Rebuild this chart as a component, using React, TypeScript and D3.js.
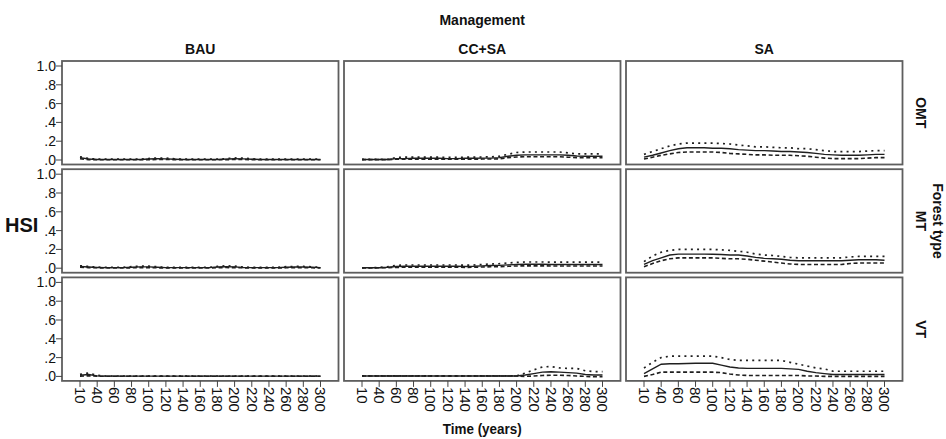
import React from "react";
import * as d3 from "d3";

// ---------- data ----------
const timeCategories = [10, 30, 40, 50, 60, 70, 80, 90, 100, 110, 120, 130, 140, 150, 160, 170, 180, 190, 200, 210, 220, 230, 240, 250, 260, 270, 280, 290, 300];
const timeTickLabels = [10, 40, 60, 80, 100, 120, 140, 160, 180, 200, 220, 240, 260, 280, 300];
const managementLevels = ["BAU", "CC+SA", "SA"];
const forestTypes = ["OMT", "MT", "VT"];
const hsiTicks = [0, 0.2, 0.4, 0.6, 0.8, 1.0];

// BAU
const bauOmtMean = [0.025, 0.01, 0.006, 0.006, 0.006, 0.006, 0.006, 0.006, 0.01, 0.013, 0.012, 0.008, 0.006, 0.006, 0.006, 0.006, 0.006, 0.009, 0.013, 0.012, 0.008, 0.006, 0.006, 0.006, 0.006, 0.006, 0.006, 0.006, 0.006];
const bauOmtUpper = [0.035, 0.016, 0.009, 0.009, 0.009, 0.009, 0.009, 0.009, 0.016, 0.021, 0.02, 0.012, 0.009, 0.009, 0.009, 0.009, 0.009, 0.014, 0.022, 0.02, 0.012, 0.009, 0.009, 0.009, 0.009, 0.009, 0.009, 0.009, 0.009];
const bauOmtLower = [0.014, 0.004, 0.003, 0.003, 0.003, 0.003, 0.003, 0.003, 0.004, 0.005, 0.005, 0.004, 0.003, 0.003, 0.003, 0.003, 0.003, 0.004, 0.005, 0.005, 0.004, 0.003, 0.003, 0.003, 0.003, 0.003, 0.003, 0.003, 0.003];

const bauMtMean = [0.018, 0.012, 0.008, 0.006, 0.006, 0.006, 0.01, 0.014, 0.014, 0.01, 0.006, 0.006, 0.006, 0.006, 0.006, 0.006, 0.012, 0.016, 0.014, 0.008, 0.006, 0.006, 0.006, 0.006, 0.01, 0.012, 0.012, 0.01, 0.006];
const bauMtUpper = [0.026, 0.018, 0.011, 0.009, 0.009, 0.009, 0.016, 0.022, 0.022, 0.015, 0.009, 0.009, 0.009, 0.009, 0.009, 0.009, 0.019, 0.025, 0.022, 0.012, 0.009, 0.009, 0.009, 0.009, 0.016, 0.019, 0.019, 0.015, 0.009];
const bauMtLower = [0.01, 0.006, 0.004, 0.003, 0.003, 0.003, 0.004, 0.006, 0.006, 0.004, 0.003, 0.003, 0.003, 0.003, 0.003, 0.003, 0.005, 0.007, 0.006, 0.004, 0.003, 0.003, 0.003, 0.003, 0.004, 0.005, 0.005, 0.004, 0.003];

const bauVtMean = [0.012, 0.02, 0.006, 0.003, 0.003, 0.003, 0.003, 0.003, 0.003, 0.003, 0.003, 0.003, 0.003, 0.003, 0.003, 0.003, 0.003, 0.003, 0.003, 0.003, 0.003, 0.003, 0.003, 0.003, 0.003, 0.003, 0.003, 0.003, 0.003];
const bauVtUpper = [0.022, 0.035, 0.012, 0.004, 0.004, 0.004, 0.004, 0.004, 0.004, 0.004, 0.004, 0.004, 0.004, 0.004, 0.004, 0.004, 0.004, 0.004, 0.004, 0.004, 0.004, 0.004, 0.004, 0.004, 0.004, 0.004, 0.004, 0.004, 0.004];
const bauVtLower = [0.002, 0.006, 0.002, 0.002, 0.002, 0.002, 0.002, 0.002, 0.002, 0.002, 0.002, 0.002, 0.002, 0.002, 0.002, 0.002, 0.002, 0.002, 0.002, 0.002, 0.002, 0.002, 0.002, 0.002, 0.002, 0.002, 0.002, 0.002, 0.002];

// CC+SA
const ccOmtMean = [0.005, 0.005, 0.005, 0.005, 0.015, 0.015, 0.018, 0.018, 0.018, 0.018, 0.015, 0.015, 0.018, 0.018, 0.02, 0.02, 0.025, 0.04, 0.05, 0.055, 0.055, 0.055, 0.055, 0.055, 0.05, 0.042, 0.04, 0.04, 0.04];
const ccOmtUpper = [0.006, 0.006, 0.006, 0.006, 0.028, 0.03, 0.03, 0.03, 0.03, 0.03, 0.028, 0.028, 0.03, 0.03, 0.032, 0.033, 0.04, 0.06, 0.08, 0.085, 0.085, 0.085, 0.085, 0.085, 0.075, 0.065, 0.065, 0.065, 0.065];
const ccOmtLower = [0.004, 0.004, 0.004, 0.004, 0.008, 0.008, 0.009, 0.009, 0.009, 0.009, 0.008, 0.008, 0.009, 0.009, 0.01, 0.01, 0.012, 0.025, 0.032, 0.034, 0.034, 0.034, 0.034, 0.034, 0.03, 0.025, 0.024, 0.024, 0.024];

const ccMtMean = [0.004, 0.004, 0.005, 0.01, 0.018, 0.02, 0.02, 0.02, 0.02, 0.02, 0.02, 0.02, 0.018, 0.02, 0.025, 0.028, 0.03, 0.035, 0.04, 0.042, 0.042, 0.042, 0.04, 0.04, 0.04, 0.04, 0.04, 0.04, 0.04];
const ccMtUpper = [0.005, 0.005, 0.007, 0.016, 0.03, 0.034, 0.034, 0.034, 0.034, 0.034, 0.034, 0.034, 0.032, 0.034, 0.04, 0.044, 0.048, 0.055, 0.062, 0.066, 0.066, 0.066, 0.064, 0.064, 0.064, 0.064, 0.064, 0.064, 0.064];
const ccMtLower = [0.003, 0.003, 0.004, 0.005, 0.009, 0.01, 0.01, 0.01, 0.01, 0.01, 0.01, 0.01, 0.009, 0.01, 0.013, 0.015, 0.016, 0.02, 0.024, 0.025, 0.025, 0.025, 0.024, 0.024, 0.024, 0.024, 0.024, 0.024, 0.024];

const ccVtMean = [0.005, 0.005, 0.005, 0.005, 0.005, 0.005, 0.005, 0.005, 0.005, 0.005, 0.005, 0.005, 0.005, 0.005, 0.005, 0.005, 0.005, 0.005, 0.005, 0.015, 0.03, 0.045, 0.05, 0.045, 0.04, 0.035, 0.02, 0.015, 0.015];
const ccVtUpper = [0.006, 0.006, 0.006, 0.006, 0.006, 0.006, 0.006, 0.006, 0.006, 0.006, 0.006, 0.006, 0.006, 0.006, 0.006, 0.006, 0.006, 0.006, 0.006, 0.035, 0.07, 0.1, 0.105, 0.09, 0.085, 0.085, 0.06, 0.05, 0.05];
const ccVtLower = [0.004, 0.004, 0.004, 0.004, 0.004, 0.004, 0.004, 0.004, 0.004, 0.004, 0.004, 0.004, 0.004, 0.004, 0.004, 0.004, 0.004, 0.004, 0.004, 0.0, 0.005, 0.01, 0.012, 0.012, 0.01, 0.005, 0.0, -0.004, -0.004];

// SA
const saOmtMean = [0.03, 0.05, 0.075, 0.1, 0.12, 0.13, 0.13, 0.13, 0.125, 0.125, 0.12, 0.11, 0.105, 0.1, 0.1, 0.095, 0.09, 0.09, 0.085, 0.08, 0.07, 0.06, 0.055, 0.05, 0.05, 0.05, 0.055, 0.06, 0.06];
const saOmtUpper = [0.06, 0.09, 0.12, 0.15, 0.17, 0.18, 0.18, 0.18, 0.18, 0.175, 0.17, 0.16, 0.15, 0.14, 0.14, 0.135, 0.13, 0.13, 0.12, 0.12, 0.11, 0.1, 0.09, 0.09, 0.09, 0.09, 0.095, 0.1, 0.1];
const saOmtLower = [0.01, 0.03, 0.05, 0.065, 0.08, 0.085, 0.085, 0.085, 0.085, 0.08, 0.07, 0.065, 0.06, 0.055, 0.055, 0.05, 0.05, 0.05, 0.045, 0.04, 0.03, 0.02, 0.015, 0.015, 0.015, 0.015, 0.02, 0.025, 0.025];

const saMtMean = [0.04, 0.08, 0.11, 0.14, 0.15, 0.15, 0.15, 0.15, 0.148, 0.145, 0.14, 0.14, 0.13, 0.115, 0.105, 0.1, 0.095, 0.085, 0.08, 0.08, 0.08, 0.08, 0.08, 0.08, 0.085, 0.09, 0.09, 0.09, 0.085];
const saMtUpper = [0.07, 0.13, 0.17, 0.19, 0.2, 0.2, 0.2, 0.2, 0.2, 0.195, 0.19, 0.18, 0.17, 0.15, 0.14, 0.135, 0.125, 0.115, 0.11, 0.11, 0.11, 0.11, 0.11, 0.11, 0.12, 0.125, 0.125, 0.125, 0.125];
const saMtLower = [0.015, 0.05, 0.08, 0.1, 0.11, 0.11, 0.11, 0.11, 0.11, 0.105, 0.1, 0.1, 0.095, 0.085, 0.075, 0.065, 0.055, 0.045, 0.04, 0.04, 0.04, 0.04, 0.04, 0.04, 0.05, 0.055, 0.055, 0.055, 0.055];

const saVtMean = [0.03, 0.08, 0.13, 0.135, 0.135, 0.138, 0.14, 0.14, 0.14, 0.12, 0.1, 0.09, 0.085, 0.085, 0.085, 0.085, 0.085, 0.08, 0.075, 0.055, 0.04, 0.03, 0.02, 0.02, 0.02, 0.02, 0.02, 0.02, 0.02];
const saVtUpper = [0.09, 0.15, 0.2, 0.215, 0.215, 0.215, 0.215, 0.215, 0.215, 0.2, 0.18, 0.17, 0.17, 0.17, 0.17, 0.17, 0.17, 0.15, 0.13, 0.11, 0.09, 0.08, 0.055, 0.055, 0.055, 0.055, 0.055, 0.055, 0.055];
const saVtLower = [0.0, 0.02, 0.045, 0.045, 0.045, 0.045, 0.045, 0.045, 0.045, 0.04, 0.025, 0.015, 0.01, 0.01, 0.01, 0.01, 0.01, 0.01, 0.01, 0.005, 0.005, 0.0, 0.0, 0.0, 0.0, 0.0, 0.0, 0.0, 0.0];

// [row = forest type][col = management] -> [mean, upper, lower]
const panelSeries = [
  [[bauOmtMean, bauOmtUpper, bauOmtLower], [ccOmtMean, ccOmtUpper, ccOmtLower], [saOmtMean, saOmtUpper, saOmtLower]],
  [[bauMtMean, bauMtUpper, bauMtLower], [ccMtMean, ccMtUpper, ccMtLower], [saMtMean, saMtUpper, saMtLower]],
  [[bauVtMean, bauVtUpper, bauVtLower], [ccVtMean, ccVtUpper, ccVtLower], [saVtMean, saVtUpper, saVtLower]],
];

// ---------- layout ----------
const W = 946;
const H = 439;
const panelLeft0 = 62;
const panelW = 276.5;
const colStep = 282;
const panelTop0 = 61;
const panelH = 103.5;
const rowStep = 108.2;
const xPad = 18;
const font = "'Liberation Sans', Arial, sans-serif";
const borderColor = "#5e5e5e";
const lineColor = "#1f1f1f";

const fmtY = (d: number) => (d >= 1 ? "1.0" : "." + Math.round(d * 10));

export default function App() {
  const lineStyles = [
    { dash: undefined, width: 1.4 },
    { dash: "2,4.2", width: 1.7 },
    { dash: "4,2.6", width: 1.6 },
  ];

  const panels: React.ReactNode[] = [];
  forestTypes.forEach((ft, r) => {
    managementLevels.forEach((mg, c) => {
      const left = panelLeft0 + c * colStep;
      const top = panelTop0 + r * rowStep;
      const bottom = top + panelH;
      const x = d3
        .scalePoint<number>()
        .domain(timeCategories)
        .range([left + xPad, left + panelW - xPad]);
      const y = d3.scaleLinear().domain([0, 1]).range([bottom - 4.5, top + 5]);
      const line = d3
        .line<number>()
        .x((_, i) => x(timeCategories[i]) as number)
        .y((d) => y(d));
      const series = panelSeries[r][c];
      panels.push(
        <g key={`${r}-${c}`}>
          {series.map((vals, k) => (
            <path
              key={k}
              d={line(vals) || ""}
              fill="none"
              stroke={lineColor}
              strokeWidth={lineStyles[k].width}
              strokeDasharray={lineStyles[k].dash}
            />
          ))}
          <rect x={left} y={top} width={panelW} height={panelH} fill="none" stroke={borderColor} strokeWidth={1.8} />
          {c === 0 &&
            hsiTicks.map((t) => (
              <g key={t}>
                <line x1={left - 6} x2={left} y1={y(t)} y2={y(t)} stroke="#444" strokeWidth={1} />
                <text
                  x={left - 6}
                  y={y(t)}
                  dy="0.36em"
                  textAnchor="end"
                  fontFamily={font}
                  fontSize={14}
                  fill="#111"
                >
                  {fmtY(t)}
                </text>
              </g>
            ))}
          {r === forestTypes.length - 1 &&
            timeTickLabels.map((t) => {
              const tx = x(t) as number;
              return (
                <g key={t}>
                  <line x1={tx} x2={tx} y1={bottom} y2={bottom + 6} stroke="#444" strokeWidth={1} />
                  <text
                    transform={`translate(${tx},${bottom + 6}) rotate(90)`}
                    dy="0.35em"
                    textAnchor="start"
                    fontFamily={font}
                    fontSize={15}
                    fill="#111"
                  >
                    {t}
                  </text>
                </g>
              );
            })}
          {r === 0 && (
            <text
              x={left + panelW / 2}
              y={top - 7}
              textAnchor="middle"
              fontFamily={font}
              fontWeight="bold"
              fontSize={14}
              fill="#111"
            >
              {mg}
            </text>
          )}
          {c === managementLevels.length - 1 && (
            <text
              transform={`translate(${left + panelW + 13},${top + panelH / 2}) rotate(90)`}
              textAnchor="middle"
              fontFamily={font}
              fontWeight="bold"
              fontSize={14}
              fill="#111"
            >
              {ft}
            </text>
          )}
        </g>
      );
    });
  });

  const gridRight = panelLeft0 + 2 * colStep + panelW;
  const gridBottom = panelTop0 + 2 * rowStep + panelH;
  const centerX = (panelLeft0 + gridRight) / 2;
  const centerY = (panelTop0 + gridBottom) / 2;

  return (
    <svg
      width={W}
      height={H}
      viewBox={`0 0 ${W} ${H}`}
      style={{ position: "absolute", left: 0, top: 0, display: "block", background: "#fff" }}
    >
      <rect x={0} y={0} width={W} height={H} fill="#fff" />
      <text x={centerX} y={25} textAnchor="middle" fontFamily={font} fontWeight="bold" fontSize={14} fill="#111">
        Management
      </text>
      <text
        x={centerX}
        y={434}
        textAnchor="middle"
        fontFamily={font}
        fontWeight="bold"
        fontSize={15}
        textLength={79}
        lengthAdjust="spacingAndGlyphs"
        fill="#111"
      >
        Time (years)
      </text>
      <text x={5} y={232} fontFamily={font} fontWeight="bold" fontSize={20} fill="#111">
        HSI
      </text>
      <text
        transform={`translate(${933},${centerY}) rotate(90)`}
        textAnchor="middle"
        fontFamily={font}
        fontWeight="bold"
        fontSize={14}
        fill="#111"
      >
        Forest type
      </text>
      {panels}
    </svg>
  );
}
